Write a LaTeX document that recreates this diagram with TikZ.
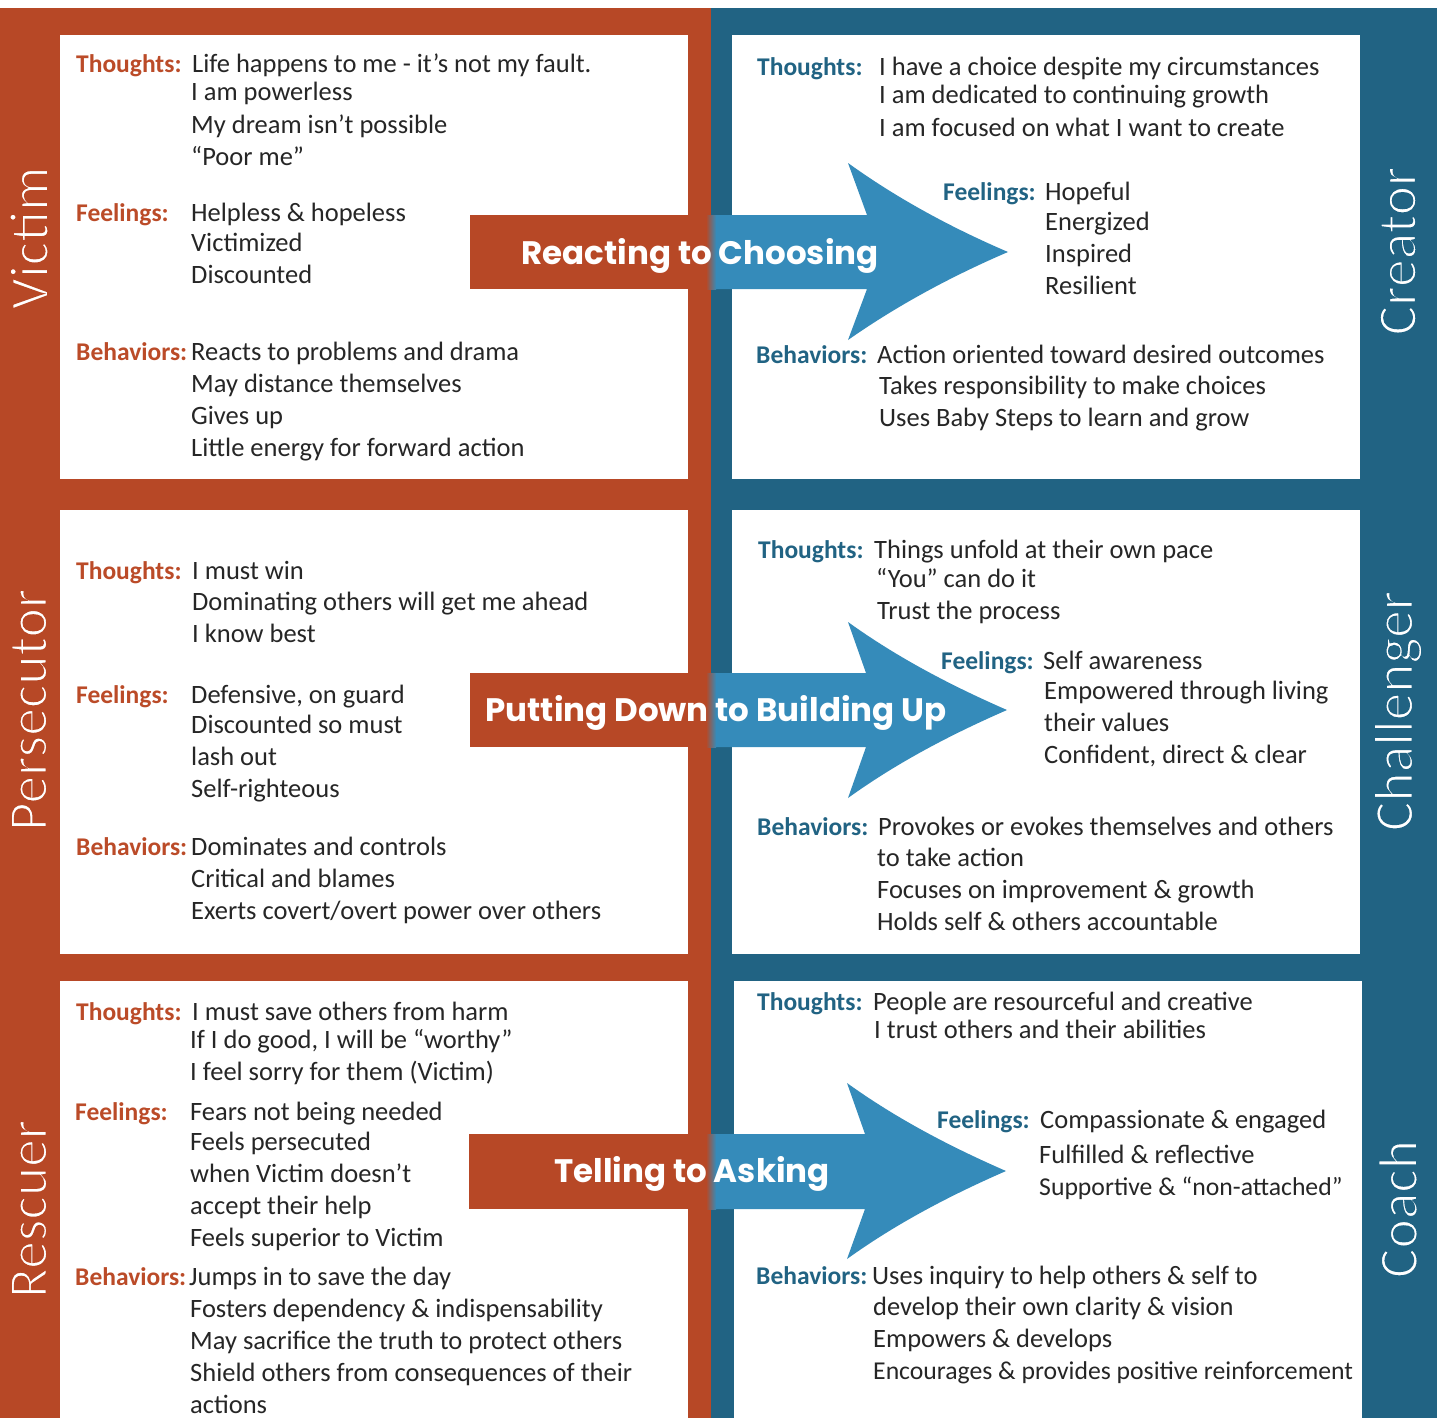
\documentclass[tikz,border=0pt]{standalone}
\usepackage{fontspec}
\setmainfont{Carlito}
\newfontfamily\arrowfont{Poppins}
\definecolor{bandred}{RGB}{183,72,38}
\definecolor{bandblue}{RGB}{33,99,131}
\definecolor{arrowblue}{RGB}{53,139,186}
\definecolor{labred}{RGB}{187,75,40}
\definecolor{labblue}{RGB}{33,99,131}
\definecolor{ink}{RGB}{38,38,38}
\newcommand\bodysize{\fontsize{26.5}{31}\selectfont}
\newcommand\tightsize{\fontsize{25.7}{31}\selectfont}
\newcommand\labsize{\fontsize{25.5}{31}\selectfont}
% thin white text: fill + stroke in background colour
\newcommand\thinred[1]{\special{pdf:literal direct 2 Tr 1.8 w 0.718 0.282 0.149 RG}#1\special{pdf:literal direct 0 Tr}}
\newcommand\thinblue[1]{\special{pdf:literal direct 2 Tr 1.8 w 0.129 0.388 0.514 RG}#1\special{pdf:literal direct 0 Tr}}
\tikzset{
  bodytxt/.style={anchor=base west, inner sep=0pt, text=ink, font=\bodysize},
  tighttxt/.style={anchor=base west, inner sep=0pt, text=ink, font=\tightsize},
  rlab/.style={anchor=base west, inner sep=0pt, text=labred, font=\labsize\bfseries},
  blab/.style={anchor=base west, inner sep=0pt, text=labblue, font=\labsize\bfseries},
  sidelab/.style={text=white, font=\fontsize{55.5}{60}\selectfont, rotate=90, inner sep=0pt, anchor=center},
  arrowtxt/.style={text=white, font=\arrowfont\bfseries\fontsize{32.5}{40}\selectfont, anchor=base, inner sep=0pt},
  whitebox/.style={fill=white}
}
\begin{document}
\begin{tikzpicture}[x=1pt,y=-1pt]
\useasboundingbox (0,0) rectangle (1437,1418);
\fill[white] (0,0) rectangle (1437,1418);
% bands
\fill[bandred] (0,8) rectangle (711,1418);
\fill[bandblue] (711,8) rectangle (1437,1418);
% white boxes
\fill[whitebox] (60,35) rectangle (688,479);
\fill[whitebox] (60,510) rectangle (688,954);
\fill[whitebox] (60,981) rectangle (688,1418);
\fill[whitebox] (732,35) rectangle (1360,479);
\fill[whitebox] (732,510) rectangle (1360,954);
\fill[whitebox] (734,981) rectangle (1362,1418);

% arrows
\fill[bandred] (470,215) rectangle (711,289);
\fill[arrowblue] (711,215) -- (867,215) -- (848,163) .. controls (898,199) and (952,228) .. (1008,252)
   .. controls (952,276) and (898,305) .. (848,340) -- (867,289) -- (711,289) -- cycle;
\shade[left color=bandred, right color=arrowblue] (706,215) rectangle (716,289);

\fill[bandred] (470,673) rectangle (711,747);
\fill[arrowblue] (711,673) -- (866,673) -- (848,622) .. controls (898,658) and (952,686) .. (1007,710)
   .. controls (952,734) and (898,762) .. (848,798) -- (866,747) -- (711,747) -- cycle;
\shade[left color=bandred, right color=arrowblue] (706,673) rectangle (716,747);

\fill[bandred] (469,1134) rectangle (711,1209);
\fill[arrowblue] (711,1134) -- (865,1134) -- (847,1083) .. controls (897,1119) and (951,1147) .. (1006,1171)
   .. controls (951,1195) and (897,1223) .. (847,1259) -- (865,1209) -- (711,1209) -- cycle;
\shade[left color=bandred, right color=arrowblue] (706,1134) rectangle (716,1209);

\node[arrowtxt] (a1) at (700,264) {Reacting to Choosing};
\node[arrowtxt] (a2) at (716,721) {Putting Down to Building Up};
\node[arrowtxt] (a3) at (692,1182) {Telling to Asking};

% side labels
\node[sidelab] (sv) at (29,238) {\thinred{Victim}};
\node[sidelab] (sp) at (29,710) {\thinred{Persecutor}};
\node[sidelab] (sr) at (29,1209) {\thinred{Rescuer}};
\node[sidelab] (sc) at (1398,251) {\thinblue{Creator}};
\node[sidelab] (sch) at (1398,711) {\thinblue{Challenger}};
\node[sidelab] (sco) at (1398,1209) {\thinblue{Coach}};

% ---- Victim box
\node[rlab] (v1) at (76,73) {Thoughts:};
\node[bodytxt] (v1a) at (192,73) {Life happens to me - it’s not my fault.};
\node[bodytxt] (v1b) at (191,101) {I am powerless};
\node[bodytxt] (v1c) at (191,133) {My dream isn’t possible};
\node[bodytxt] (v1d) at (191,165) {“Poor me”};
\node[rlab] (v2) at (76,221) {Feelings:};
\node[bodytxt] (v2a) at (191,221) {Helpless \& hopeless};
\node[bodytxt] (v2b) at (191,251) {Victimized};
\node[bodytxt] (v2c) at (191,283) {Discounted};
\node[rlab] (v3) at (76,360) {Behaviors:};
\node[bodytxt] (v3a) at (191,360) {Reacts to problems and drama};
\node[bodytxt] (v3b) at (191,392) {May distance themselves};
\node[bodytxt] (v3c) at (191,424) {Gives up};
\node[bodytxt] (v3d) at (191,456) {Little energy for forward action};

% ---- Persecutor box
\node[rlab] (p1) at (76,579) {Thoughts:};
\node[bodytxt] (p1a) at (192,579) {I must win};
\node[bodytxt] (p1b) at (192,610) {Dominating others will get me ahead};
\node[bodytxt] (p1c) at (192,642) {I know best};
\node[rlab] (p2) at (76,703) {Feelings:};
\node[bodytxt] (p2a) at (191,703) {Defensive, on guard};
\node[bodytxt] (p2b) at (191,733) {Discounted so must};
\node[bodytxt] (p2c) at (191,765) {lash out};
\node[bodytxt] (p2d) at (191,797) {Self-righteous};
\node[rlab] (p3) at (76,855) {Behaviors:};
\node[bodytxt] (p3a) at (191,855) {Dominates and controls};
\node[bodytxt] (p3b) at (191,887) {Critical and blames};
\node[bodytxt] (p3c) at (191,919) {Exerts covert/overt power over others};

% ---- Rescuer box
\node[rlab] (r1) at (76,1020) {Thoughts:};
\node[bodytxt] (r1a) at (192,1020) {I must save others from harm};
\node[bodytxt] (r1b) at (190,1048) {If I do good, I will be “worthy”};
\node[bodytxt] (r1c) at (190,1080) {I feel sorry for them (Victim)};
\node[rlab] (r2) at (75,1120) {Feelings:};
\node[bodytxt] (r2a) at (190,1120) {Fears not being needed};
\node[bodytxt] (r2b) at (190,1150) {Feels persecuted};
\node[bodytxt] (r2c) at (190,1182) {when Victim doesn’t};
\node[bodytxt] (r2d) at (190,1214) {accept their help};
\node[bodytxt] (r2e) at (190,1246) {Feels superior to Victim};
\node[rlab] (r3) at (75,1285) {Behaviors:};
\node[bodytxt] (r3a) at (189,1285) {Jumps in to save the day};
\node[bodytxt] (r3b) at (190,1317) {Fosters dependency \& indispensability};
\node[bodytxt] (r3c) at (190,1349) {May sacrifice the truth to protect others};
\node[bodytxt] (r3d) at (190,1381) {Shield others from consequences of their};
\node[bodytxt] (r3e) at (190,1413) {actions};

% ---- Creator box
\node[blab] (c1) at (757,76) {Thoughts:};
\node[bodytxt] (c1a) at (879,76) {I have a choice despite my circumstances};
\node[bodytxt] (c1b) at (879,104) {I am dedicated to continuing growth};
\node[bodytxt] (c1c) at (879,136) {I am focused on what I want to create};
\node[blab] (c2) at (943,200) {Feelings:};
\node[bodytxt] (c2a) at (1045,200) {Hopeful};
\node[bodytxt] (c2b) at (1045,230) {Energized};
\node[bodytxt] (c2c) at (1045,262) {Inspired};
\node[bodytxt] (c2d) at (1045,294) {Resilient};
\node[blab] (c3) at (756,363) {Behaviors:};
\node[bodytxt] (c3a) at (877,363) {Action oriented toward desired outcomes};
\node[bodytxt] (c3b) at (879,394) {Takes responsibility to make choices};
\node[bodytxt] (c3c) at (879,426) {Uses Baby Steps to learn and grow};

% ---- Challenger box
\node[blab] (h1) at (758,558) {Thoughts:};
\node[bodytxt] (h1a) at (874,558) {Things unfold at their own pace};
\node[bodytxt] (h1b) at (876,587) {“You” can do it};
\node[bodytxt] (h1c) at (877,619) {Trust the process};
\node[blab] (h2) at (941,669) {Feelings:};
\node[bodytxt] (h2a) at (1043,669) {Self awareness};
\node[bodytxt] (h2b) at (1044,699) {Empowered through living};
\node[bodytxt] (h2c) at (1044,731) {their values};
\node[bodytxt] (h2d) at (1044,763) {Confident, direct \& clear};
\node[blab] (h3) at (757,835) {Behaviors:};
\node[bodytxt] (h3a) at (878,835) {Provokes or evokes themselves and others};
\node[bodytxt] (h3b) at (877,866) {to take action};
\node[bodytxt] (h3c) at (877,898) {Focuses on improvement \& growth};
\node[bodytxt] (h3d) at (877,930) {Holds self \& others accountable};

% ---- Coach box
\node[blab] (k1) at (757,1010) {Thoughts:};
\node[bodytxt] (k1a) at (873,1010) {People are resourceful and creative};
\node[bodytxt] (k1b) at (874,1038) {I trust others and their abilities};
\node[blab] (k2) at (937,1128) {Feelings:};
\node[bodytxt] (k2a) at (1040,1128) {Compassionate \& engaged};
\node[bodytxt] (k2b) at (1039,1163) {Fulfilled \& reflective};
\node[tighttxt] (k2c) at (1039,1195) {Supportive \& “non-attached”};
\node[blab] (k3) at (756,1284) {Behaviors:};
\node[bodytxt] (k3a) at (872,1284) {Uses inquiry to help others \& self to};
\node[bodytxt] (k3b) at (873,1315) {develop their own clarity \& vision};
\node[bodytxt] (k3c) at (873,1347) {Empowers \& develops};
\node[tighttxt] (k3d) at (873,1379) {Encourages \& provides positive reinforcement};
\end{tikzpicture}
\end{document}
